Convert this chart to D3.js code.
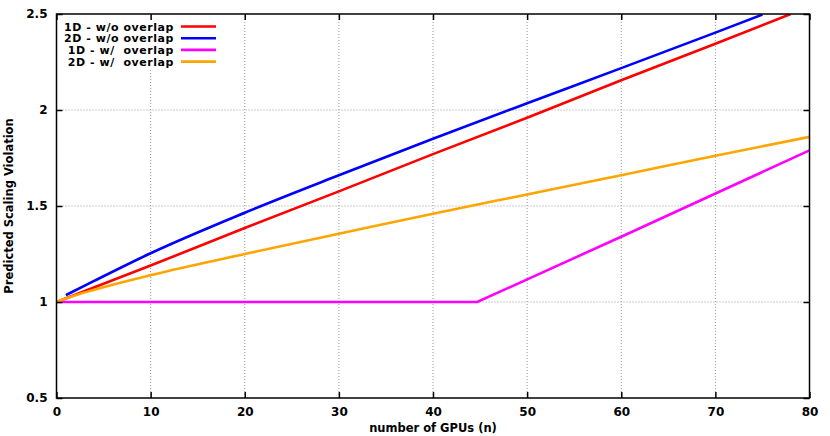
<!DOCTYPE html>
<html>
<head>
<meta charset="utf-8">
<script src="https://cdn.jsdelivr.net/npm/d3@7"></script>
<style>
  body { margin: 0; background: #fff; }
  text { font-family: "DejaVu Sans", Verdana, sans-serif; font-weight: bold; }
</style>
</head>
<body>
<svg id="chart" width="830" height="436"></svg>
<script>
// data
var seriesNames = ['1D - w/o overlap', '2D - w/o overlap', '1D - w/  overlap', '2D - w/  overlap'];
var seriesColors = ['#ff0000', '#0000ff', '#ff00ff', '#ffa500'];

var red1D = [[0,1],[10,1.19],[20,1.385],[30,1.576],[40,1.77],[50,1.96],[60,2.155],[70,2.345],[78,2.5]];
var blue2D = [[1,1.036],[4,1.11],[10,1.254],[20,1.465],[30,1.66],[40,1.85],[50,2.035],[60,2.218],[70,2.403],[75,2.497]];
var pink1Dov = [[0,1],[44.7,1],[60,1.34],[80,1.79]];
var orange2Dov = [[0,1],[2,1.035],[4,1.064],[10,1.14],[20,1.25],[30,1.355],[40,1.46],[50,1.56],[60,1.66],[70,1.762],[80,1.86]];

var xTicks = [0,10,20,30,40,50,60,70,80];
var yTicks = [0.5,1,1.5,2,2.5];
var yTickLabels = ['0.5','1','1.5','2','2.5'];

var allSeries = [red1D, blue2D, pink1Dov, orange2Dov];
var curves = [d3.curveLinear, d3.curveMonotoneX, d3.curveLinear, d3.curveMonotoneX];

var margin = {left: 56.5, right: 20.5, top: 14, bottom: 38};
var W = 830, H = 436;

var svg = d3.select('#chart');
var x = d3.scaleLinear().domain([0, 80]).range([margin.left, W - margin.right]);
var y = d3.scaleLinear().domain([0.5, 2.5]).range([H - margin.bottom, margin.top]);

svg.append('clipPath').attr('id', 'plotclip').append('rect')
  .attr('x', x(0)).attr('y', y(2.5)).attr('width', x(80) - x(0)).attr('height', y(0.5) - y(2.5));

// grid
var grid = svg.append('g');
grid.selectAll('line.vx').data(xTicks.slice(1, -1)).enter().append('line')
  .attr('x1', d => x(d)).attr('x2', d => x(d))
  .attr('y1', y(0.5)).attr('y2', y(2.5))
  .attr('stroke', '#999').attr('stroke-width', 1).attr('stroke-dasharray', '1,2');
grid.selectAll('line.hy').data(yTicks.slice(1, -1)).enter().append('line')
  .attr('x1', x(0)).attr('x2', x(80))
  .attr('y1', d => y(d)).attr('y2', d => y(d))
  .attr('stroke', '#999').attr('stroke-width', 1).attr('stroke-dasharray', '1,2');

// legend background (opaque key)
var legend = svg.append('g');
legend.append('rect').attr('x', x(0) + 2).attr('y', y(2.5) + 2)
  .attr('width', 165).attr('height', 54).attr('fill', '#fff');

// curves
svg.append('g').attr('clip-path', 'url(#plotclip)')
  .selectAll('path').data(allSeries).enter().append('path')
  .attr('d', (d, i) => d3.line().x(p => x(p[0])).y(p => y(p[1])).curve(curves[i])(d))
  .attr('fill', 'none')
  .attr('stroke', (d, i) => seriesColors[i])
  .attr('stroke-width', 2.6);

// legend entries
seriesNames.forEach(function(name, i) {
  var yy = 26.5 + i * 11.7;
  legend.append('text').attr('x', 174).attr('y', yy + 4)
    .attr('text-anchor', 'end').attr('font-size', 11)
    .attr('letter-spacing', 0.55)
    .attr('xml:space', 'preserve').style('white-space', 'pre')
    .text(name);
  legend.append('line').attr('x1', 181).attr('x2', 216)
    .attr('y1', yy).attr('y2', yy)
    .attr('stroke', seriesColors[i]).attr('stroke-width', 2.6);
});

// frame
svg.append('rect').attr('x', x(0)).attr('y', y(2.5))
  .attr('width', x(80) - x(0)).attr('height', y(0.5) - y(2.5))
  .attr('fill', 'none').attr('stroke', '#000').attr('stroke-width', 1.5);

// axes with mirrored inward ticks
var axB = d3.axisBottom(x).tickValues(xTicks).tickSize(-6).tickPadding(9).tickFormat(d3.format('d'));
var axT = d3.axisTop(x).tickValues(xTicks).tickSize(-6).tickFormat('');
var axL = d3.axisLeft(y).tickValues(yTicks).tickSize(-6).tickPadding(9).tickFormat((d, i) => yTickLabels[i]);
var axR = d3.axisRight(y).tickValues(yTicks).tickSize(-6).tickFormat('');

function styleAxis(g) {
  g.select('.domain').remove();
  g.selectAll('.tick line').attr('stroke', '#000').attr('stroke-width', 1.5);
  g.selectAll('.tick text').attr('font-size', 12).attr('fill', '#000')
    .style('font-family', '"DejaVu Sans", Verdana, sans-serif').style('font-weight', 'bold');
}
svg.append('g').attr('transform', 'translate(0,' + y(0.5) + ')').call(axB).call(styleAxis);
svg.append('g').attr('transform', 'translate(0,' + y(2.5) + ')').call(axT).call(styleAxis);
svg.append('g').attr('transform', 'translate(' + x(0) + ',0)').call(axL).call(styleAxis);
svg.append('g').attr('transform', 'translate(' + x(80) + ',0)').call(axR).call(styleAxis);

// axis titles
svg.append('text').attr('x', 433).attr('y', 432)
  .attr('text-anchor', 'middle').attr('font-size', 11.5).text('number of GPUs (n)');
svg.append('text').attr('transform', 'translate(13,' + y(1.5) + ') rotate(-90)')
  .attr('text-anchor', 'middle').attr('font-size', 11.5).text('Predicted Scaling Violation');
</script>
</body>
</html>
